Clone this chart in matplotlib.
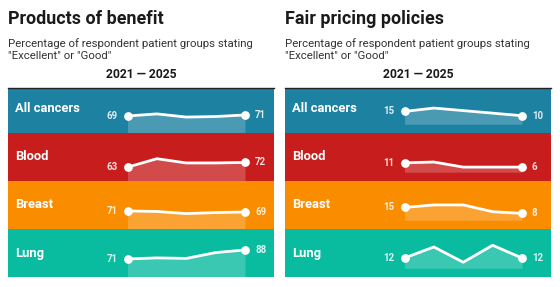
import matplotlib.pyplot as plt

# Data
years = [2021, 2022, 2023, 2024, 2025]
row_names = ["All cancers", "Blood", "Breast", "Lung"]
row_colors = ["#1d81a2", "#c71e1d", "#fa8c00", "#09bb9f"]

benefit_all = [69, 73, 67, 68, 71]
benefit_blood = [63, 79, 71, 71, 72]
benefit_breast = [71, 70, 66, 68, 69]
benefit_lung = [71, 73, 72, 83, 88]

pricing_all = [15, 19, 16, 13, 10]
pricing_blood = [11, 12, 6, 6, 6]
pricing_breast = [15, 18, 18, 10, 8]
pricing_lung = [12, 25, 7, 27, 12]

plt.rcParams['font.family'] = ['Roboto', 'DejaVu Sans']

W, H = 560, 287
fig = plt.figure(figsize=(W / 100, H / 100), dpi=100)


def rect(x0, y0, w, h):
    # pixel box (from top-left) -> figure fraction
    return [x0 / W, 1 - (y0 + h) / H, w / W, h / H]


panels = [
    {"x0": 8, "title": "Products of benefit",
     "series": [benefit_all, benefit_blood, benefit_breast, benefit_lung],
     "ylim": (37.5, 128.1)},
    {"x0": 285, "title": "Fair pricing policies",
     "series": [pricing_all, pricing_blood, pricing_breast, pricing_lung],
     "ylim": (-10, 46.5)},
]

panel_w = 266
row_h = 48
rows_top = 84.7
head_line = 88.0

for p in panels:
    x0 = p["x0"]
    fig.text(x0 / W, 1 - 23.5 / H, p["title"], fontsize=12.9, fontweight='bold',
             color='#1a1a1a', va='baseline', ha='left')
    fig.text(x0 / W, 1 - 46.7 / H, 'Percentage of respondent patient groups stating',
             fontsize=8.2, color='#333333', va='baseline', ha='left')
    fig.text(x0 / W, 1 - 59.3 / H, '"Excellent" or "Good"',
             fontsize=8.2, color='#333333', va='baseline', ha='left')
    fig.text((x0 + panel_w / 2) / W, 1 - 78.3 / H, "2021 \u2014 2025", fontsize=8.7,
             fontweight='bold', color='#1a1a1a', va='baseline', ha='center')

    ylo, yhi = p["ylim"]
    px_per_unit = row_h / (yhi - ylo)
    # x scale: 2021 at 119.5px and 2025 at 237px inside the panel
    sx = (237 - 119.5) / (years[-1] - years[0])
    xlim = (years[0] - 119.5 / sx, years[0] + (panel_w - 119.5) / sx)

    for i, (name, color, vals) in enumerate(zip(row_names, row_colors, p["series"])):
        top = rows_top + i * row_h
        vis_top = max(top, head_line)
        cut = vis_top - top
        ax = fig.add_axes(rect(x0, vis_top, panel_w, row_h - cut))
        ax.set_facecolor(color)
        ax.set_xlim(*xlim)
        ax.set_ylim(ylo, yhi - cut / px_per_unit)
        ax.set_xticks([])
        ax.set_yticks([])
        for s in ax.spines.values():
            s.set_visible(False)

        ax.fill_between(years, vals, 0 if ylo < 0 else ylo - 50, color='white',
                        alpha=0.2, lw=0)
        ax.plot(years, vals, color='white', lw=2, solid_joinstyle='round',
                solid_capstyle='round')
        ax.plot([years[0], years[-1]], [vals[0], vals[-1]], 'o', color='white',
                ms=6.3, mew=0)

        ax.text(7 / panel_w, 1 - (24.3 - cut) / (row_h - cut), name,
                transform=ax.transAxes, color='white', fontsize=9.4,
                fontweight='bold', va='center', ha='left')
        ax.annotate(str(vals[0]), (years[0], vals[0]), xytext=(-7.2, 0),
                    textcoords='offset points', color='white', alpha=0.85,
                    fontsize=7, fontweight='bold', va='center', ha='right')
        ax.annotate(str(vals[-1]), (years[-1], vals[-1]), xytext=(7.2, 0),
                    textcoords='offset points', color='white', alpha=0.85,
                    fontsize=7, fontweight='bold', va='center', ha='left')

    # dark rule under the header row
    fig.add_artist(plt.Line2D([x0 / W, (x0 + panel_w) / W],
                              [1 - head_line / H] * 2, color='#222222', lw=1.0))

fig.savefig('out.png', dpi=100)
